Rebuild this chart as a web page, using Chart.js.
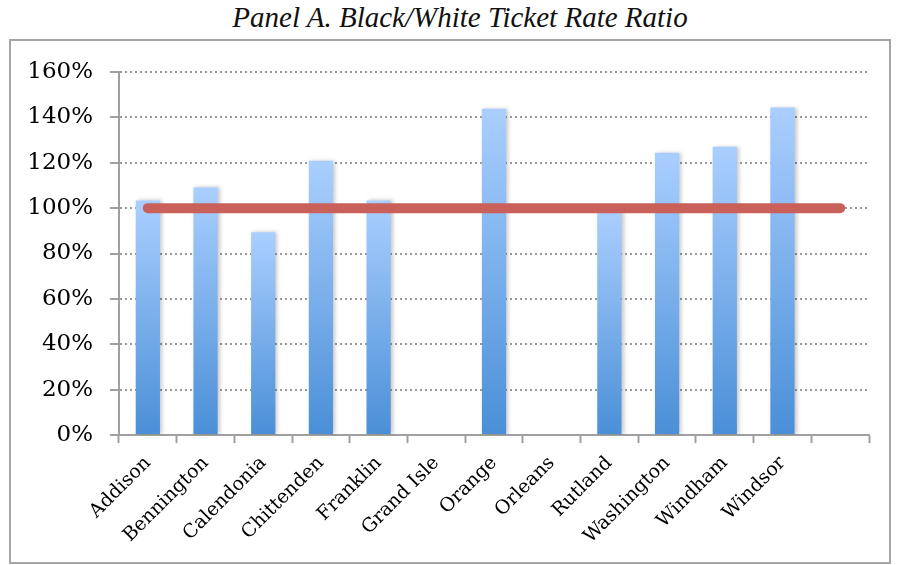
<!DOCTYPE html>
<html>
<head>
<meta charset="utf-8">
<script src="https://cdn.jsdelivr.net/npm/chart.js@4"></script>
<style>
  html, body { margin: 0; padding: 0; background: #fff; }
  #wrap { position: relative; width: 898px; height: 565px; }
  #title {
    position: absolute; left: 0; top: 1px; width: 920px; text-align: center;
    font-family: "Liberation Serif", serif; font-style: italic; font-size: 29px; color: #111;
  }
  #frame {
    position: absolute; left: 9px; top: 39px; width: 878px; height: 521px;
    border: 2px solid #a6a6a6;
  }
  canvas { position: absolute; left: 0; top: 0; }
</style>
</head>
<body>
<div id="wrap">
  <div id="title">Panel A. Black/White Ticket Rate Ratio</div>
  <div id="frame"></div>
  <canvas id="chart" width="898" height="565"></canvas>
</div>
<script>
// Chart data
const counties = ['Addison', 'Bennington', 'Calendonia', 'Chittenden', 'Franklin', 'Grand Isle',
  'Orange', 'Orleans', 'Rutland', 'Washington', 'Windham', 'Windsor', ''];
const ratioValues = [103.4, 109.1, 89.4, 120.9, 103.4, null, 143.8, null, 98.5, 124.4, 127.0, 144.3, null];
const parityLine = [100, 100, 100, 100, 100, 100, 100, 100, 100, 100, 100, 100, 100];
const yTicks = [0, 20, 40, 60, 80, 100, 120, 140, 160];

// Per-bar vertical gradient (light at top, darker at the base)
function barGradient(context) {
  const chart = context.chart;
  const area = chart.chartArea;
  const v = context.raw;
  if (!area || v == null) return '#7aaeea';
  const yScale = chart.scales.y;
  const top = yScale.getPixelForValue(v);
  const bottom = yScale.getPixelForValue(0);
  const g = chart.ctx.createLinearGradient(0, top, 0, bottom);
  g.addColorStop(0, '#aacfff');
  g.addColorStop(1, '#4a8fd7');
  return g;
}

// Soft shadow behind the bars
const barShadow = {
  id: 'barShadow',
  beforeDatasetDraw(chart, args) {
    if (args.meta.type !== 'bar') return;
    const ctx = chart.ctx;
    ctx.save();
    ctx.shadowColor = 'rgba(0,0,0,0.22)';
    ctx.shadowBlur = 4;
    ctx.shadowOffsetX = 2;
    ctx.shadowOffsetY = 0;
  },
  afterDatasetDraw(chart, args) {
    if (args.meta.type !== 'bar') return;
    chart.ctx.restore();
  }
};

const ctx = document.getElementById('chart').getContext('2d');
const chart = new Chart(ctx, {
  type: 'bar',
  data: {
    labels: counties,
    datasets: [
      {
        type: 'line',
        label: 'Parity',
        data: parityLine,
        borderColor: '#c9605a',
        borderWidth: 10,
        borderCapStyle: 'round',
        borderJoinStyle: 'round',
        pointRadius: 0,
        tension: 0,
        order: 0
      },
      {
        type: 'bar',
        label: 'Ratio',
        data: ratioValues,
        backgroundColor: barGradient,
        borderWidth: 0,
        categoryPercentage: 1,
        barPercentage: 0.42,
        order: 1
      }
    ]
  },
  options: {
    responsive: false,
    animation: false,
    layout: { padding: { left: 0, right: 29, top: 72, bottom: 0 } },
    plugins: {
      legend: { display: false },
      tooltip: { enabled: false },
      title: { display: false }
    },
    scales: {
      x: {
        offset: true,
        border: { color: '#a0a0a0', width: 2 },
        grid: {
          offset: true,
          drawOnChartArea: false,
          drawTicks: true,
          tickLength: 8,
          tickColor: '#a0a0a0',
          tickWidth: 2
        },
        ticks: {
          color: '#000',
          font: { family: 'DejaVu Serif', size: 19 },
          minRotation: 45,
          maxRotation: 45,
          autoSkip: false,
          padding: 9
        },
        afterFit(scale) { scale.height = 130; }
      },
      y: {
        min: 0,
        max: 160,
        afterBuildTicks(scale) { scale.ticks = yTicks.map(v => ({ value: v })); },
        border: { color: '#a0a0a0', width: 2, dash: [2, 3] },
        grid: {
          color: (c) => c.tick && c.tick.value === 0 ? 'rgba(0,0,0,0)' : '#999',
          lineWidth: 2,
          drawTicks: true,
          tickLength: 9,
          tickColor: '#a0a0a0',
          tickWidth: 2,
          tickBorderDash: []
        },
        ticks: {
          color: '#000',
          font: { family: 'DejaVu Serif', size: 23 },
          padding: 17,
          callback: (v) => v + '%'
        },
        afterFit(scale) { scale.width = 119; }
      }
    }
  },
  plugins: [barShadow]
});
</script>
</body>
</html>
